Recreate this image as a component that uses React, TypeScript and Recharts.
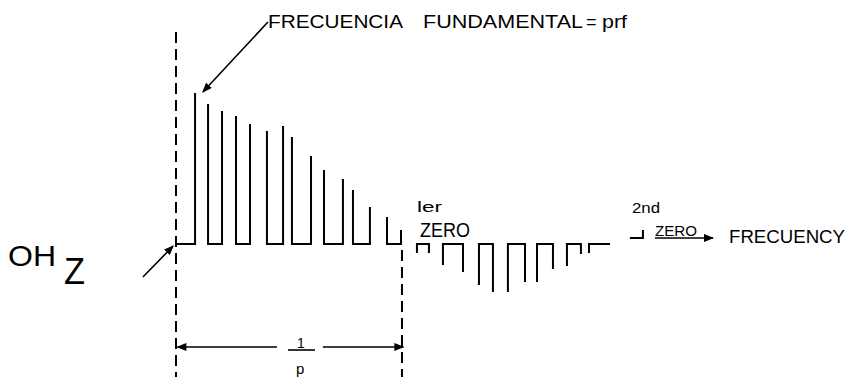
import { ComposedChart, Line, XAxis, YAxis } from 'recharts'

// Frequency in multiples of prf (first zero at 1/p = 16 prf), amplitude in % of the fundamental.
const posFreq = [1.35, 2.27, 3.26, 4.25, 5.24, 6.44, 7.58, 8.21, 9.56, 10.48, 11.82, 12.53, 13.73, 14.94, 15.93]
const posAmp = [100, 92.7, 88.1, 84.8, 79.5, 74.8, 78.1, 70.9, 58.3, 49.0, 43.0, 35.8, 24.5, 17.9, 9.3]

// second lobe (negative), between 1st and 2nd zero
const negFreq = [17.06, 17.91, 18.9, 20.32, 21.45, 22.44, 23.5, 24.71, 25.56, 26.69, 27.68, 28.67, 29.24]
const negAmp = [-6, -6, -13.9, -18.5, -27.2, -31.8, -31.8, -25.2, -25.2, -16.6, -14.6, -6.6, -6]
const negTailEnd = 30.73

// start of third lobe and the frequency axis arrow
const lobe3Freq = [32.14, 33.06]
const lobe3Amp = [4, 9.3]
const axisArrow = { from: 33.91, to: 38.02, level: 4 }

const firstZero = 16
const dimLevel = -68.2
const dimGap = [7.15, 10.4]

const X_DOMAIN: [number, number] = [-12.46, 47.72]
const Y_DOMAIN: [number, number] = [-88.1, 161.6]

type Pt = { f: number; a: number }

function buildLines(): Pt[][] {
  const out: Pt[][] = []
  out.push([{ f: 0, a: 0 }, { f: posFreq[0], a: 0 }, { f: posFreq[0], a: posAmp[0] }])
  for (let i = 1; i < posFreq.length; i += 2) {
    out.push([
      { f: posFreq[i], a: posAmp[i] },
      { f: posFreq[i], a: 0 },
      { f: posFreq[i + 1], a: 0 },
      { f: posFreq[i + 1], a: posAmp[i + 1] },
    ])
  }
  for (let i = 0; i < negFreq.length - 1; i += 2) {
    out.push([
      { f: negFreq[i], a: negAmp[i] },
      { f: negFreq[i], a: 0 },
      { f: negFreq[i + 1], a: 0 },
      { f: negFreq[i + 1], a: negAmp[i + 1] },
    ])
  }
  const last = negFreq.length - 1
  out.push([{ f: negFreq[last], a: negAmp[last] }, { f: negFreq[last], a: 0 }, { f: negTailEnd, a: 0 }])
  out.push([{ f: lobe3Freq[0], a: lobe3Amp[0] }, { f: lobe3Freq[1], a: lobe3Amp[0] }, { f: lobe3Freq[1], a: lobe3Amp[1] }])
  return out
}

const spectrum = buildLines()

const dashed: Pt[][] = [
  [{ f: 0, a: 140.4 }, { f: 0, a: Y_DOMAIN[0] }],
  [{ f: firstZero, a: -4 }, { f: firstZero, a: Y_DOMAIN[0] }],
]

const arrows: Pt[][] = [
  [{ f: 6.51, a: 147 }, { f: 1.9, a: 100.7 }],
  [{ f: -2.34, a: -21.9 }, { f: -0.2, a: -1.3 }],
  [{ f: dimGap[0], a: dimLevel }, { f: 0.1, a: dimLevel }],
  [{ f: dimGap[1], a: dimLevel }, { f: firstZero + 0.1, a: dimLevel }],
  [{ f: axisArrow.from, a: axisArrow.level }, { f: axisArrow.to, a: axisArrow.level }],
]

const font = '"Liberation Sans", Arial, sans-serif'
const ink = '#000'

export default function App() {
  return (
    <div style={{ position: 'absolute', left: 0, top: 0, width: 850, height: 377, background: '#fff' }}>
      <svg width={0} height={0} style={{ position: 'absolute' }}>
        <defs>
          <marker id="head" viewBox="0 0 10 8" refX={9} refY={4} markerWidth={6.5} markerHeight={5} orient="auto">
            <path d="M0,0 L10,4 L0,8 z" fill={ink} />
          </marker>
        </defs>
      </svg>
      <ComposedChart width={850} height={377} margin={{ top: 0, right: 0, bottom: 0, left: 0 }}>
        <XAxis type="number" dataKey="f" domain={X_DOMAIN} allowDataOverflow hide />
        <YAxis type="number" dataKey="a" domain={Y_DOMAIN} allowDataOverflow hide />
        {spectrum.map((d, i) => (
          <Line key={`s${i}`} data={d} dataKey="a" type="linear" stroke={ink} strokeWidth={2}
            dot={false} activeDot={false} isAnimationActive={false} />
        ))}
        {dashed.map((d, i) => (
          <Line key={`d${i}`} data={d} dataKey="a" type="linear" stroke={ink} strokeWidth={2}
            strokeDasharray="11 6" dot={false} activeDot={false} isAnimationActive={false} />
        ))}
        {arrows.map((d, i) => (
          <Line key={`a${i}`} data={d} dataKey="a" type="linear" stroke={ink} strokeWidth={1.6}
            markerEnd="url(#head)" dot={false} activeDot={false} isAnimationActive={false} />
        ))}
      </ComposedChart>
      <svg width={850} height={377} style={{ position: 'absolute', left: 0, top: 0, pointerEvents: 'none' }}
        fontFamily={font}>
        <g fill={ink}>
          <text x={268} y={28} fontSize={18} textLength={135} lengthAdjust="spacingAndGlyphs">FRECUENCIA</text>
          <text x={423} y={28} fontSize={18} textLength={160} lengthAdjust="spacingAndGlyphs">FUNDAMENTAL</text>
          <text x={586} y={28} fontSize={18}>=</text>
          <text x={602} y={28} fontSize={18} textLength={25} lengthAdjust="spacingAndGlyphs">prf</text>
          <text x={8} y={266} fontSize={29} textLength={48} lengthAdjust="spacingAndGlyphs">OH</text>
          <text x={64} y={284} fontSize={36} textLength={21} lengthAdjust="spacingAndGlyphs">Z</text>
          <text x={417} y={212} fontSize={14} textLength={25} lengthAdjust="spacingAndGlyphs">ler</text>
          <text x={420} y={237} fontSize={20} textLength={50} lengthAdjust="spacingAndGlyphs">ZERO</text>
          <text x={632} y={213} fontSize={15} textLength={28} lengthAdjust="spacingAndGlyphs">2nd</text>
          <text x={655} y={236} fontSize={14} textLength={42} lengthAdjust="spacingAndGlyphs">ZERO</text>
          <text x={729} y={243} fontSize={19} textLength={116} lengthAdjust="spacingAndGlyphs">FRECUENCY</text>
          <text x={297} y={348} fontSize={14} fill={ink}>1</text>
          <text x={296} y={374} fontSize={15}>p</text>
        </g>
        <line x1={288} y1={350} x2={315} y2={350} stroke={ink} strokeWidth={1.6} />
      </svg>
    </div>
  )
}
